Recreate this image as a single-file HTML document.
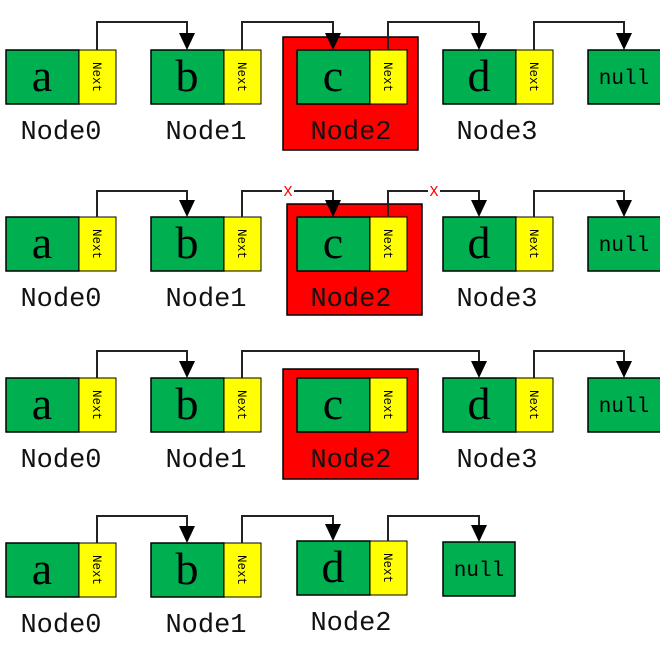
<!DOCTYPE html>
<html><head><meta charset="utf-8"><style>
body{margin:0;background:#fff}
svg{display:block}
.g{fill:#00b050;stroke:#000;stroke-width:1.5}
.y{fill:#ffff00;stroke:#000;stroke-width:1}
.r{fill:#ff0000;stroke:#000;stroke-width:1.5}
.L{font-family:"Liberation Serif","Noto Serif CJK SC",serif;font-size:46px;text-anchor:middle}
.N{font-family:"Liberation Mono",monospace;font-size:12.5px;text-anchor:middle}
.T{font-family:"Liberation Mono",monospace;font-size:27px;text-anchor:middle;fill:#111}
.nl{font-family:"Liberation Mono",monospace;font-size:21px;text-anchor:middle}
.ln{fill:none;stroke:#222;stroke-width:2}
.x{font-family:"Liberation Mono",monospace;font-size:15px;fill:#f00;text-anchor:middle}
</style></head><body>
<svg width="660" height="647" viewBox="0 0 660 647">
<defs>
<g id="arr"><path d="M-8,-17 L8,-17 L0,0z" fill="#000"/></g></defs>

<!-- ROW 1 -->
<rect class="r" x="283" y="37" width="135" height="113"/>
<g transform="translate(6,50)"><rect class="g" width="73" height="54"/><rect class="y" x="73" width="37" height="54"/><text class="L" x="36" y="41">a</text><text class="N" transform="translate(87,27) rotate(90)">Next</text></g>
<g transform="translate(151,50)"><rect class="g" width="73" height="54"/><rect class="y" x="73" width="37" height="54"/><text class="L" x="36" y="41">b</text><text class="N" transform="translate(87,27) rotate(90)">Next</text></g>
<g transform="translate(297,50)"><rect class="g" width="73" height="54"/><rect class="y" x="73" width="37" height="54"/><text class="L" x="36" y="41">c</text><text class="N" transform="translate(87,27) rotate(90)">Next</text></g>
<g transform="translate(443,50)"><rect class="g" width="73" height="54"/><rect class="y" x="73" width="37" height="54"/><text class="L" x="36" y="41">d</text><text class="N" transform="translate(87,27) rotate(90)">Next</text></g>
<g transform="translate(588,50)"><rect class="g" width="76" height="54"/><text class="nl" x="36" y="34">null</text></g>
<text class="T" x="61" y="139">Node0</text><text class="T" x="206" y="139">Node1</text><text class="T" x="351" y="139">Node2</text><text class="T" x="497" y="139">Node3</text>
<path class="ln" d="M97,50V22H187V36"/><use href="#arr" x="187" y="50"/>
<path class="ln" d="M242,50V22H333V36"/><use href="#arr" x="333" y="50"/>
<path class="ln" d="M388,50V22H479V36"/><use href="#arr" x="479" y="50"/>
<path class="ln" d="M534,50V22H624V36"/><use href="#arr" x="624" y="50"/>

<!-- ROW 2 -->
<rect class="r" x="287" y="204" width="135" height="111"/>
<g transform="translate(6,217)"><rect class="g" width="73" height="54"/><rect class="y" x="73" width="37" height="54"/><text class="L" x="36" y="41">a</text><text class="N" transform="translate(87,27) rotate(90)">Next</text></g>
<g transform="translate(151,217)"><rect class="g" width="73" height="54"/><rect class="y" x="73" width="37" height="54"/><text class="L" x="36" y="41">b</text><text class="N" transform="translate(87,27) rotate(90)">Next</text></g>
<g transform="translate(297,217)"><rect class="g" width="73" height="54"/><rect class="y" x="73" width="37" height="54"/><text class="L" x="36" y="41">c</text><text class="N" transform="translate(87,27) rotate(90)">Next</text></g>
<g transform="translate(443,217)"><rect class="g" width="73" height="54"/><rect class="y" x="73" width="37" height="54"/><text class="L" x="36" y="41">d</text><text class="N" transform="translate(87,27) rotate(90)">Next</text></g>
<g transform="translate(588,217)"><rect class="g" width="76" height="54"/><text class="nl" x="36" y="34">null</text></g>
<text class="T" x="61" y="306">Node0</text><text class="T" x="206" y="306">Node1</text><text class="T" x="351" y="306">Node2</text><text class="T" x="497" y="306">Node3</text>
<path class="ln" d="M97,217V191H187V203"/><use href="#arr" x="187" y="217"/>
<path class="ln" d="M242,217V191H282M294,191H333V203"/><use href="#arr" x="333" y="217"/>
<text class="x" x="288" y="196">X</text>
<path class="ln" d="M388,217V191H428M440,191H479V203"/><use href="#arr" x="479" y="217"/>
<text class="x" x="434" y="196">X</text>
<path class="ln" d="M534,217V191H624V203"/><use href="#arr" x="624" y="217"/>

<!-- ROW 3 -->
<rect class="r" x="283" y="369" width="135" height="110"/>
<g transform="translate(6,378)"><rect class="g" width="73" height="54"/><rect class="y" x="73" width="37" height="54"/><text class="L" x="36" y="41">a</text><text class="N" transform="translate(87,27) rotate(90)">Next</text></g>
<g transform="translate(151,378)"><rect class="g" width="73" height="54"/><rect class="y" x="73" width="37" height="54"/><text class="L" x="36" y="41">b</text><text class="N" transform="translate(87,27) rotate(90)">Next</text></g>
<g transform="translate(297,378)"><rect class="g" width="73" height="54"/><rect class="y" x="73" width="37" height="54"/><text class="L" x="36" y="41">c</text><text class="N" transform="translate(87,27) rotate(90)">Next</text></g>
<g transform="translate(443,378)"><rect class="g" width="73" height="54"/><rect class="y" x="73" width="37" height="54"/><text class="L" x="36" y="41">d</text><text class="N" transform="translate(87,27) rotate(90)">Next</text></g>
<g transform="translate(588,378)"><rect class="g" width="76" height="54"/><text class="nl" x="36" y="34">null</text></g>
<text class="T" x="61" y="467">Node0</text><text class="T" x="206" y="467">Node1</text><text class="T" x="351" y="467">Node2</text><text class="T" x="497" y="467">Node3</text>
<path class="ln" d="M97,378V351H187V364"/><use href="#arr" x="187" y="378"/>
<path class="ln" d="M242,378V351H479V364"/><use href="#arr" x="479" y="378"/>
<path class="ln" d="M534,378V351H624V364"/><use href="#arr" x="624" y="378"/>

<!-- ROW 4 -->
<g transform="translate(6,543)"><rect class="g" width="73" height="54"/><rect class="y" x="73" width="37" height="54"/><text class="L" x="36" y="41">a</text><text class="N" transform="translate(87,27) rotate(90)">Next</text></g>
<g transform="translate(151,543)"><rect class="g" width="73" height="54"/><rect class="y" x="73" width="37" height="54"/><text class="L" x="36" y="41">b</text><text class="N" transform="translate(87,27) rotate(90)">Next</text></g>
<g transform="translate(297,541)"><rect class="g" width="73" height="54"/><rect class="y" x="73" width="37" height="54"/><text class="L" x="36" y="41">d</text><text class="N" transform="translate(87,27) rotate(90)">Next</text></g>
<g transform="translate(443,542)"><rect class="g" width="72" height="54"/><text class="nl" x="36" y="34">null</text></g>
<text class="T" x="61" y="632">Node0</text><text class="T" x="206" y="632">Node1</text><text class="T" x="351" y="630">Node2</text>
<path class="ln" d="M97,543V516H187V529"/><use href="#arr" x="187" y="543"/>
<path class="ln" d="M242,543V516H333V527"/><use href="#arr" x="333" y="541"/>
<path class="ln" d="M388,541V516H479V528"/><use href="#arr" x="479" y="542"/>
</svg>
</body></html>
